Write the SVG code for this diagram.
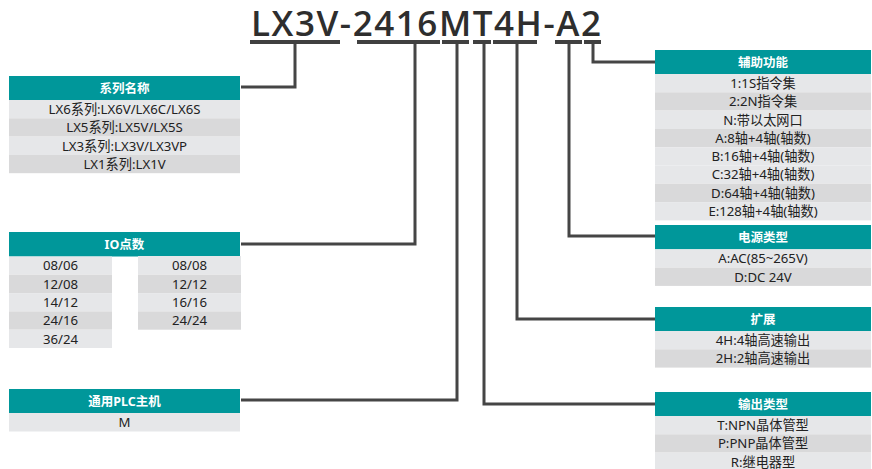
<svg xmlns="http://www.w3.org/2000/svg" width="872" height="469" viewBox="0 0 872 469">
<style>
.hd{fill:#00979a}
.l{fill:#e6e7e9}
.d{fill:#d9d9da}
.ht{font-family:"Noto Sans","Noto Sans CJK SC",sans-serif;font-size:12.5px;font-weight:bold;fill:#fff;text-anchor:middle}
.rt{font-family:"Noto Sans","Noto Sans CJK SC",sans-serif;font-size:13.2px;fill:#222;text-anchor:middle}
.title{font-family:"Open Sans","Noto Sans",sans-serif;font-size:35px;font-weight:600;fill:#2e2e2e}
.ul{fill:#404040}
.cn{fill:none;stroke:#454545;stroke-width:3}
</style>
<rect width="872" height="469" fill="#fff"/>
<g id="title">
<text class="title" x="251" y="36" textLength="350" lengthAdjust="spacing">LX3V-2416MT4H-A2</text>
<rect class="ul" x="250" y="40" width="90" height="4"/>
<rect class="ul" x="357" y="40" width="83" height="4"/>
<rect class="ul" x="442" y="40" width="27" height="4"/>
<rect class="ul" x="473" y="40" width="18" height="4"/>
<rect class="ul" x="493" y="40" width="44" height="4"/>
<rect class="ul" x="555" y="40" width="27" height="4"/>
<rect class="ul" x="584" y="40" width="17" height="4"/>
</g>
<g id="connectors">
<path class="cn" d="M295 44V87H241"/>
<path class="cn" d="M415 44V244H241"/>
<path class="cn" d="M457 44V400H241"/>
<path class="cn" d="M484 44V404H655"/>
<path class="cn" d="M517 44V319H655"/>
<path class="cn" d="M569 44V236H655"/>
<path class="cn" d="M593 44V62H655"/>
</g>
<g id="series">
<rect class="hd" x="9" y="76" width="231" height="24"/>
<text class="ht" x="124.5" y="92.5">系列名称</text>
<rect class="l" x="9" y="100" width="231" height="18.3"/>
<rect class="d" x="9" y="118.3" width="231" height="18.3"/>
<rect class="l" x="9" y="136.6" width="231" height="18.3"/>
<rect class="d" x="9" y="154.9" width="231" height="18.3"/>
<text class="rt" x="124.5" y="113.9">LX6系列:LX6V/LX6C/LX6S</text>
<text class="rt" x="124.5" y="132.2">LX5系列:LX5V/LX5S</text>
<text class="rt" x="124.5" y="150.5">LX3系列:LX3V/LX3VP</text>
<text class="rt" x="124.5" y="168.8">LX1系列:LX1V</text>
</g>
<g id="io">
<rect class="hd" x="9" y="232" width="231" height="24.5"/>
<text class="ht" x="124.5" y="248.7">IO点数</text>
<rect class="l" x="9" y="256.5" width="103" height="18.3"/>
<rect class="d" x="9" y="274.8" width="103" height="18.3"/>
<rect class="l" x="9" y="293.1" width="103" height="18.3"/>
<rect class="d" x="9" y="311.4" width="103" height="18.3"/>
<rect class="l" x="9" y="329.7" width="103" height="18.3"/>
<text class="rt" x="60.5" y="270.4">08/06</text>
<text class="rt" x="60.5" y="288.7">12/08</text>
<text class="rt" x="60.5" y="307">14/12</text>
<text class="rt" x="60.5" y="325.3">24/16</text>
<text class="rt" x="60.5" y="343.6">36/24</text>
<rect class="l" x="138" y="256" width="103" height="18.8"/>
<rect class="d" x="138" y="274.8" width="103" height="18.3"/>
<rect class="l" x="138" y="293.1" width="103" height="18.3"/>
<rect class="d" x="138" y="311.4" width="103" height="18.3"/>
<text class="rt" x="189.5" y="270.4">08/08</text>
<text class="rt" x="189.5" y="288.7">12/12</text>
<text class="rt" x="189.5" y="307">16/16</text>
<text class="rt" x="189.5" y="325.3">24/24</text>
</g>
<g id="plc">
<rect class="hd" x="9" y="389" width="231" height="24"/>
<text class="ht" x="124.5" y="405.5">通用PLC主机</text>
<rect class="l" x="9" y="413" width="231" height="18.5"/>
<text class="rt" x="124.5" y="426.9">M</text>
</g>
<g id="aux">
<rect class="hd" x="655" y="50" width="216" height="24"/>
<text class="ht" x="763" y="66.5">辅助功能</text>
<rect class="l" x="655" y="74" width="216" height="18.3"/>
<rect class="d" x="655" y="92.3" width="216" height="18.3"/>
<rect class="l" x="655" y="110.6" width="216" height="18.3"/>
<rect class="d" x="655" y="128.9" width="216" height="18.3"/>
<rect class="l" x="655" y="147.2" width="216" height="18.3"/>
<rect class="l" x="655" y="165.5" width="216" height="18.3"/>
<rect class="d" x="655" y="183.8" width="216" height="18.3"/>
<rect class="l" x="655" y="202.1" width="216" height="18.3"/>
<text class="rt" x="763" y="87.9">1:1S指令集</text>
<text class="rt" x="763" y="106.2">2:2N指令集</text>
<text class="rt" x="763" y="124.5">N:带以太网口</text>
<text class="rt" x="763" y="142.8">A:8轴+4轴(轴数)</text>
<text class="rt" x="763" y="161.1">B:16轴+4轴(轴数)</text>
<text class="rt" x="763" y="179.4">C:32轴+4轴(轴数)</text>
<text class="rt" x="763" y="197.7">D:64轴+4轴(轴数)</text>
<text class="rt" x="763" y="216">E:128轴+4轴(轴数)</text>
</g>
<g id="power">
<rect class="hd" x="655" y="225" width="216" height="24.3"/>
<text class="ht" x="763" y="241.6">电源类型</text>
<rect class="l" x="655" y="249.3" width="216" height="18.3"/>
<rect class="d" x="655" y="267.6" width="216" height="18.3"/>
<text class="rt" x="763" y="263.2">A:AC(85~265V)</text>
<text class="rt" x="763" y="281.5">D:DC 24V</text>
</g>
<g id="ext">
<rect class="hd" x="655" y="307" width="216" height="24"/>
<text class="ht" x="763" y="323.5">扩展</text>
<rect class="l" x="655" y="331" width="216" height="18.3"/>
<rect class="d" x="655" y="349.3" width="216" height="18.3"/>
<text class="rt" x="763" y="344.9">4H:4轴高速输出</text>
<text class="rt" x="763" y="363.2">2H:2轴高速输出</text>
</g>
<g id="output">
<rect class="hd" x="655" y="392" width="216" height="24"/>
<text class="ht" x="763" y="408.5">输出类型</text>
<rect class="l" x="655" y="416" width="216" height="18.3"/>
<rect class="d" x="655" y="434.3" width="216" height="18.3"/>
<rect class="l" x="655" y="452.6" width="216" height="18.3"/>
<text class="rt" x="763" y="429.9">T:NPN晶体管型</text>
<text class="rt" x="763" y="448.2">P:PNP晶体管型</text>
<text class="rt" x="763" y="466.5">R:继电器型</text>
</g>
</svg>
